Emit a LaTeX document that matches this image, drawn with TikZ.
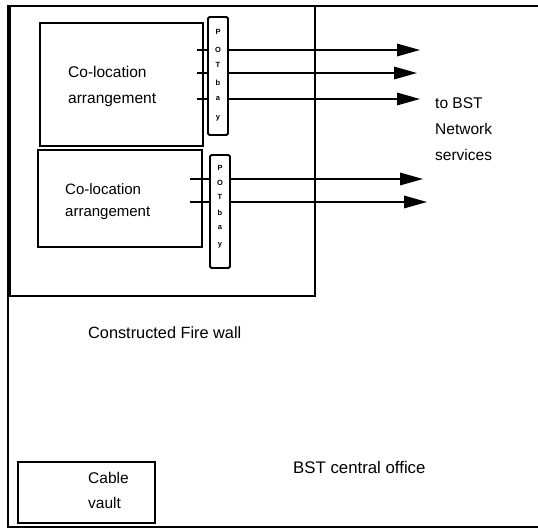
\documentclass[tikz,border=0pt]{standalone}
\usepackage{fontspec}
\setmainfont{Liberation Sans}
\usetikzlibrary{arrows.meta}
\begin{document}
\begin{tikzpicture}[x=1pt,y=-1pt,
  wall/.style={draw,line width=1.8pt},
  colobox/.style={draw,line width=1.6pt,inner sep=0pt},
  baybox/.style={draw,line width=1.8pt,rounded corners=1.5pt,inner sep=0pt},
  bayletter/.style={font=\fontsize{7.5}{7.5}\selectfont\bfseries,inner sep=0pt},
  lbl/.style={font=\fontsize{15.5}{26}\selectfont,align=left,inner sep=0pt},
  stub/.style={line width=1.6pt},
  sig/.style={line width=1.6pt,-{Triangle[length=23pt,width=12.5pt]}}]
\useasboundingbox (0,0) rectangle (538,530);
% outer office and fire wall
\draw[wall] (538,6) -- (8,6) -- (8,527) -- (538,527);
\draw[wall] (10,6) rectangle (315,296);
% co-location boxes
\node[colobox,minimum width=163pt,minimum height=123pt] (co1) at (121.5,84.5) {};
\node[colobox,minimum width=164pt,minimum height=97pt] (co2) at (120,198.5) {};
% POT bays
\node[baybox,minimum width=20pt,minimum height=118pt] (bay1) at (218,76) {};
\node[baybox,minimum width=20pt,minimum height=113pt] (bay2) at (220,211.5) {};
\foreach \l/\y [count=\i] in {P/32,O/50,T/65,b/83,a/99,y/118}
  \node[bayletter] (ba\i) at (218,\y) {\l};
\foreach \l/\y [count=\i] in {P/168,O/183,T/197,b/213,a/228,y/245}
  \node[bayletter] (bb\i) at (220,\y) {\l};
% labels
\node[lbl,anchor=west] (t1) at (68,86) {Co-location\\arrangement};
\node[lbl,anchor=west,font=\fontsize{15}{22}\selectfont] (t2) at (65,201.5) {Co-location\\arrangement};
\node[lbl,anchor=west] (t3) at (435,129) {to BST\\Network\\services};
\node[lbl,anchor=west,font=\fontsize{16.3}{20}\selectfont] (t4) at (88,333) {Constructed Fire wall};
\node[lbl,anchor=west,font=\fontsize{16.8}{20}\selectfont] (t5) at (293,467) {BST central office};
% cable vault
\node[colobox,minimum width=137pt,minimum height=61pt] (cv) at (86.5,492.5) {};
\node[lbl,anchor=west,font=\fontsize{15.5}{25}\selectfont] (t6) at (88,490.5) {Cable\\vault};
% signal lines
\foreach \y/\tx [count=\i] in {50/420,73/417,99/420} {
  \coordinate (s\i) at (197,\y);
  \coordinate (e\i) at (\tx,\y);
  \draw[stub] (s\i) -- (s\i -| bay1.west);
  \draw[sig] (s\i -| bay1.east) -- (e\i);
}
\foreach \y/\tx [count=\i from 4] in {179/423,202/427} {
  \coordinate (s\i) at (190,\y);
  \coordinate (e\i) at (\tx,\y);
  \draw[stub] (s\i) -- (s\i -| bay2.west);
  \draw[sig] (s\i -| bay2.east) -- (e\i);
}
\end{tikzpicture}
\end{document}
